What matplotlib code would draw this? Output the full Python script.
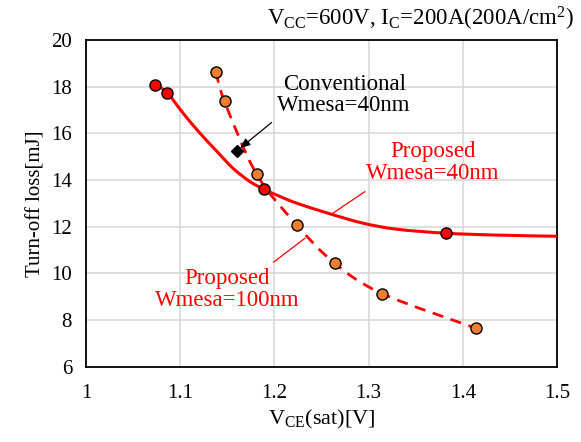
import matplotlib
matplotlib.use("Agg")
import matplotlib.pyplot as plt
from matplotlib.path import Path
from matplotlib.patches import PathPatch

plt.rcParams["font.family"] = ["Liberation Serif", "DejaVu Serif"]
plt.rcParams["mathtext.fontset"] = "custom"
plt.rcParams["mathtext.rm"] = "Liberation Serif"
plt.rcParams["mathtext.it"] = "Liberation Serif:italic"

# Proposed, Wmesa=40nm: measured points and the trend line through them
p40_vce = [1.073, 1.086, 1.189, 1.382]
p40_loss = [18.08, 17.74, 13.60, 11.72]
p40_curve_vce = [1.073, 1.086, 1.103, 1.121, 1.139, 1.156, 1.174, 1.189, 1.206,
                 1.224, 1.259, 1.294, 1.330, 1.382, 1.436, 1.500]
p40_curve_loss = [18.08, 17.74, 16.86, 16.00, 15.22, 14.50, 13.93, 13.60, 13.29,
                  13.00, 12.55, 12.15, 11.89, 11.72, 11.64, 11.59]

# Proposed, Wmesa=100nm
p100_vce = [1.138, 1.147, 1.181, 1.224, 1.264, 1.314, 1.414]
p100_loss = [18.63, 17.36, 14.25, 12.06, 10.43, 9.14, 7.65]

# Conventional, Wmesa=40nm
conv_vce = [1.160]
conv_loss = [15.26]

x_ticks = [1, 1.1, 1.2, 1.3, 1.4, 1.5]
x_labels = ["1", "1.1", "1.2", "1.3", "1.4", "1.5"]
y_ticks = [6, 8, 10, 12, 14, 16, 18, 20]

RED = "#FF0000"
ORANGE = "#ED7D31"


def smooth_path(xs, ys):
    # Catmull-Rom segments written as cubic Bezier pieces (spreadsheet-style smoothing)
    pts = list(zip(xs, ys))
    verts = [pts[0]]
    codes = [Path.MOVETO]
    n = len(pts)
    for i in range(n - 1):
        p0 = pts[i - 1] if i > 0 else pts[i]
        p1, p2 = pts[i], pts[i + 1]
        p3 = pts[i + 2] if i + 2 < n else pts[i + 1]
        c1 = (p1[0] + (p2[0] - p0[0]) / 6, p1[1] + (p2[1] - p0[1]) / 6)
        c2 = (p2[0] - (p3[0] - p1[0]) / 6, p2[1] - (p3[1] - p1[1]) / 6)
        verts += [c1, c2, p2]
        codes += [Path.CURVE4] * 3
    return Path(verts, codes)


fig = plt.figure(figsize=(5.81, 4.42), dpi=100)
ax = fig.add_axes([0.148, 0.170, 0.811, 0.740])

ax.add_patch(PathPatch(smooth_path(p40_curve_vce, p40_curve_loss), fill=False,
                       edgecolor=RED, lw=2.2, zorder=3))
ax.plot(p40_vce, p40_loss, ls="none", marker="o", ms=8, mfc=RED, mec="black",
        mew=1.0, zorder=4)
ax.add_patch(PathPatch(smooth_path(p100_vce, p100_loss), fill=False,
                       edgecolor=RED, lw=2.0, ls=(0, (4, 2.8)), zorder=3))
ax.plot(p100_vce, p100_loss, ls="none", marker="o", ms=8, mfc=ORANGE,
        mec="black", mew=1.0, zorder=4)
ax.plot(conv_vce, conv_loss, ls="none", marker="D", ms=6, mfc="black",
        mec="black", zorder=5)

ax.set_xlim(1, 1.5)
ax.set_ylim(6, 20)
ax.set_xticks(x_ticks)
ax.set_xticklabels(x_labels)
ax.set_yticks(y_ticks)
ax.tick_params(length=0, labelsize=15, pad=12)
ax.tick_params(axis="y", pad=10)
ax.grid(True, color="#D9D9D9", lw=1.2)
ax.set_axisbelow(True)
for s in ax.spines.values():
    s.set_linewidth(1.3)
    s.set_color("black")

ax.set_xlabel(r"V$_{\mathrm{CE}}$(sat)[V]", fontsize=16, labelpad=4)
ax.set_ylabel("Turn-off loss[mJ]", fontsize=15, labelpad=4)

# labels with leader lines
ax.text(1.274, 17.64, "Conventional\nWmesa=40nm", fontsize=16.5,
        ha="center", va="center", linespacing=1.05)
ax.annotate("", xy=(1.1635, 15.36), xytext=(1.197, 16.46),
            arrowprops=dict(arrowstyle="-|>,head_length=0.6,head_width=0.25",
                            color="black", lw=0.9, shrinkA=0, shrinkB=0))
ax.annotate("", xy=(1.261, 12.55), xytext=(1.296, 13.5),
            arrowprops=dict(arrowstyle="-", color=RED, lw=0.9, shrinkA=0, shrinkB=0))
ax.text(1.368, 14.75, "Proposed\nWmesa=40nm", color=RED, fontsize=16.5,
        ha="center", va="center", linespacing=1.05)
ax.annotate("", xy=(1.2325, 11.51), xytext=(1.199, 10.48),
            arrowprops=dict(arrowstyle="-", color=RED, lw=0.9, shrinkA=0, shrinkB=0))
ax.text(1.150, 9.3, "Proposed\nWmesa=100nm", color=RED, fontsize=16.5,
        ha="center", va="center", linespacing=1.05)

fig.text(0.988, 0.988, r"V$_{\mathrm{CC}}$=600V, I$_{\mathrm{C}}$=200A(200A/cm$^{2}$)",
         fontsize=16.5, ha="right", va="top")

fig.savefig("out.png", dpi=100)
